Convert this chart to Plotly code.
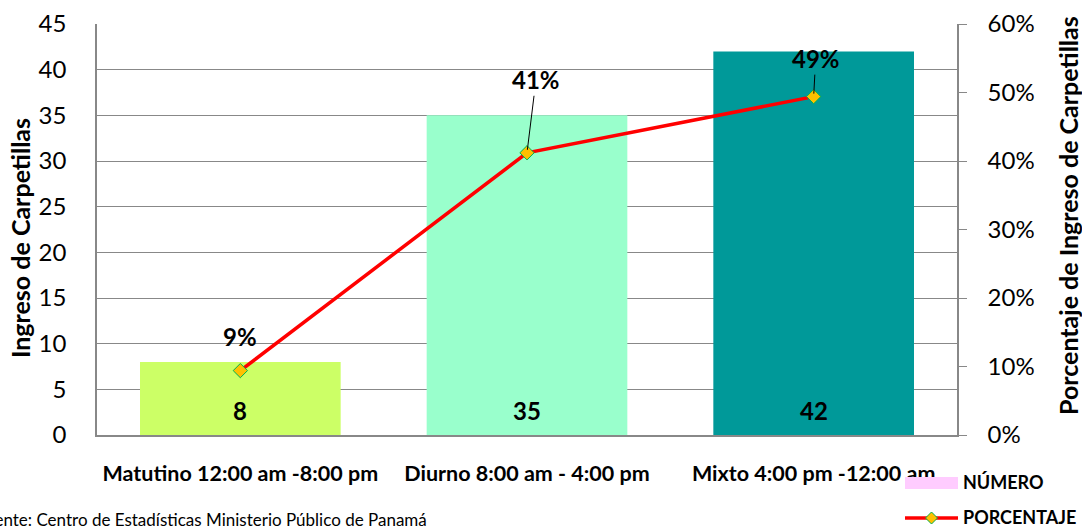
import plotly.graph_objects as go

categories = ["Matutino 12:00 am -8:00 pm", "Diurno 8:00 am - 4:00 pm", "Mixto 4:00 pm -12:00 am"]
numero = [8, 35, 42]
porcentaje = [0.094, 0.412, 0.494]
porcentaje_labels = ["9%", "41%", "49%"]
bar_colors = ["#CCFF66", "#99FFCC", "#009999"]
left_ticks = [0, 5, 10, 15, 20, 25, 30, 35, 40, 45]
right_ticks = [0, 0.1, 0.2, 0.3, 0.4, 0.5, 0.6]
right_tick_labels = ["0%", "10%", "20%", "30%", "40%", "50%", "60%"]

FONT = "Lato"
W, H = 1082, 527
ML, MR, MT, MB = 97, 125, 24, 92
PW = W - ML - MR
PH = H - MT - MB

def px_x(p):
    return (p - ML) / PW

def px_y(p):
    return (H - MB - p) / PH

fig = go.Figure()
fig.add_trace(go.Bar(
    x=categories, y=numero, marker=dict(color=bar_colors, line=dict(width=0)),
    width=0.7, name="NÚMERO", showlegend=False, yaxis="y",
))
fig.add_trace(go.Scatter(
    x=categories, y=porcentaje, mode="lines+markers", name="PORCENTAJE",
    line=dict(color="#FF0000", width=3.5),
    marker=dict(symbol="diamond", size=11, color="#FFC000", line=dict(color="#00B050", width=1)),
    yaxis="y2", showlegend=False,
))

# bar value labels
for c, v in zip(categories, numero):
    fig.add_annotation(x=c, y=0, xref="x", yref="y", text=f"<b>{v}</b>", showarrow=False,
                       yshift=25, font=dict(family=FONT, size=24, color="black"))

# percentage labels
offsets = [(0, -34, False), (9, -73, True), (2, -38, True)]
for c, v, lab, (dx, dy, arrow) in zip(categories, porcentaje, porcentaje_labels, offsets):
    if arrow:
        fig.add_annotation(x=c, y=v, xref="x", yref="y2", text=f"<b>{lab}</b>", showarrow=True,
                           arrowhead=0, arrowwidth=1, arrowcolor="black", ax=dx, ay=dy,
                           standoff=3, font=dict(family=FONT, size=24, color="black"))
    else:
        fig.add_annotation(x=c, y=v, xref="x", yref="y2", text=f"<b>{lab}</b>", showarrow=False,
                           xshift=dx, yshift=-dy, font=dict(family=FONT, size=24, color="black"))

# axis titles
fig.add_annotation(x=px_x(20), y=px_y(238), xref="paper", yref="paper", text="<b>Ingreso de Carpetillas</b>",
                   xanchor="center", yanchor="middle",
                   textangle=-90, showarrow=False, font=dict(family=FONT, size=25, color="black"))
fig.add_annotation(x=px_x(1068), y=px_y(216), xref="paper", yref="paper",
                   text="<b>Porcentaje de Ingreso de Carpetillas</b>", xanchor="center", yanchor="middle",
                   textangle=-90, showarrow=False, font=dict(family=FONT, size=25, color="black"))

# source
fig.add_annotation(x=px_x(-26), y=px_y(519), xref="paper", yref="paper", xanchor="left", yanchor="middle",
                   text="Fuente: Centro de Estadísticas Ministerio Público de Panamá",
                   showarrow=False, font=dict(family=FONT, size=17, color="black"))

# custom legend
fig.add_shape(type="rect", xref="paper", yref="paper", x0=px_x(905), x1=px_x(958),
              y0=px_y(489), y1=px_y(477), fillcolor="#FFCCFF", line=dict(width=0))
fig.add_annotation(x=px_x(961), y=px_y(482), xref="paper", yref="paper", xanchor="left", yanchor="middle",
                   text="<b>NÚMERO</b>", showarrow=False, font=dict(family=FONT, size=18, color="black"))
fig.add_shape(type="line", xref="paper", yref="paper", x0=px_x(905), x1=px_x(958),
              y0=px_y(518), y1=px_y(518), line=dict(color="#FF0000", width=3.5))
fig.add_shape(type="path", xref="paper", yref="paper", xsizemode="pixel", ysizemode="pixel",
              xanchor=px_x(931.5), yanchor=px_y(518), path="M -6 0 L 0 6 L 6 0 L 0 -6 Z",
              fillcolor="#FFC000", line=dict(color="#00B050", width=1))
fig.add_annotation(x=px_x(961), y=px_y(517), xref="paper", yref="paper", xanchor="left", yanchor="middle",
                   text="<b>PORCENTAJE</b>", showarrow=False, font=dict(family=FONT, size=18, color="black"))

fig.update_layout(
    width=W, height=H, margin=dict(l=ML, r=MR, t=MT, b=MB, autoexpand=False),
    paper_bgcolor="white", plot_bgcolor="white", showlegend=False,
    font=dict(family=FONT, color="black"),
    xaxis=dict(type="category", showline=True, linecolor="#888888", linewidth=1.5,
               tickfont=dict(family=FONT, size=21.5, color="black", weight="bold"),
               ticks="", ticklabelstandoff=18, showgrid=False),
    yaxis=dict(range=[0, 45], tickvals=left_ticks, showline=True, linecolor="#888888", linewidth=1.5,
               gridcolor="#888888", gridwidth=1, ticks="", ticklabelstandoff=24,
               tickfont=dict(family=FONT, size=24, color="black"), zeroline=False),
    yaxis2=dict(range=[0, 0.6], tickvals=right_ticks, ticktext=right_tick_labels, overlaying="y",
                side="right", showline=True, linecolor="#888888", linewidth=1.5, showgrid=False,
                ticks="outside", ticklen=8, tickcolor="#888888", ticklabelstandoff=16,
                tickfont=dict(family=FONT, size=24, color="black"), zeroline=False),
    bargap=0.3,
)

fig.write_html("out.html", config={"displayModeBar": False},
               post_script="document.body.style.margin='0px';")
